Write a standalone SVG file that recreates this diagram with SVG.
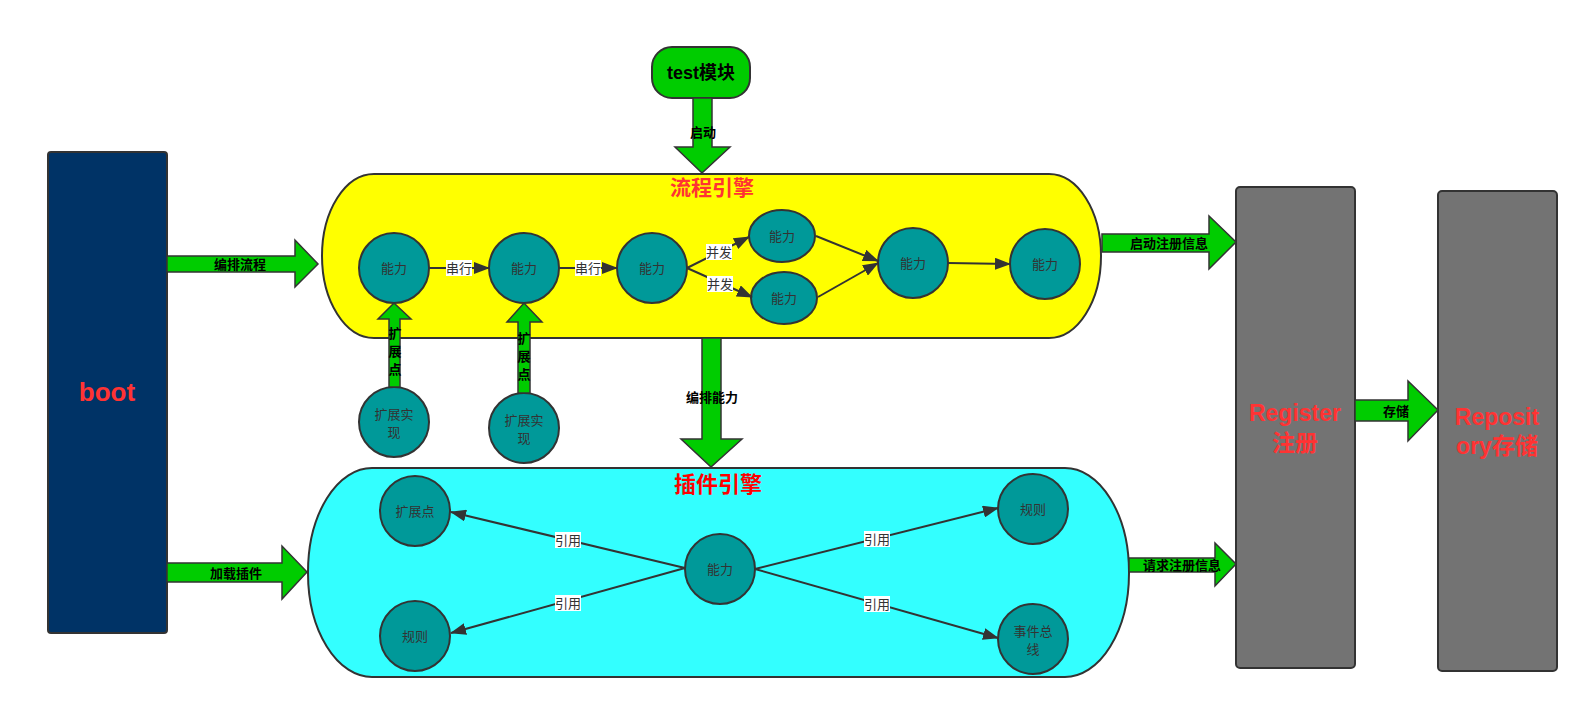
<svg xmlns="http://www.w3.org/2000/svg" width="1589" height="709" viewBox="0 0 1589 709">
<defs>
<style>
.node{stroke:#333;stroke-width:2}
.ab{fill:#00cc00;stroke:#333;stroke-width:1.5}
.circ{fill:#009999;stroke:#333;stroke-width:2}
.ct{font-family:"Liberation Sans","Noto Sans CJK SC",sans-serif;font-size:13px;fill:#333;text-anchor:middle;dominant-baseline:central}
.al{font-family:"Liberation Sans","Noto Sans CJK SC",sans-serif;font-size:13px;font-weight:bold;fill:#000;text-anchor:middle;dominant-baseline:central}
.el{font-family:"Liberation Sans","Noto Sans CJK SC",sans-serif;font-size:13px;fill:#333;text-anchor:middle;dominant-baseline:central}
.big{font-family:"Liberation Sans","Noto Sans CJK SC",sans-serif;font-weight:bold;text-anchor:middle;dominant-baseline:central}
.ln{stroke:#333;stroke-width:2;fill:none;marker-end:url(#ah)}
.lb{fill:#fff}
</style>
<marker id="ah" markerUnits="userSpaceOnUse" markerWidth="16" markerHeight="12" refX="15" refY="6" orient="auto">
<path d="M0,0 L16,6 L0,12 Z" fill="#333"/>
</marker>
</defs>
<rect width="1589" height="709" fill="#fff"/>

<g id="boot">
<rect class="node" x="48" y="152" width="119" height="481" rx="3" fill="#003366"/>
<text class="big" x="107" y="392" font-size="26" fill="#ff3333">boot</text>
</g>

<g id="flow-engine">
<rect class="node" x="322" y="174" width="779" height="164" rx="52" ry="82" fill="#ffff00"/>
<text class="big" x="712" y="187" font-size="21" fill="#ff3333">流程引擎</text>
</g>

<g id="plugin-engine">
<rect class="node" x="308" y="468" width="821" height="209" rx="64" ry="104" fill="#33ffff"/>
<text class="big" x="718" y="484" font-size="22" fill="#ff0000">插件引擎</text>
</g>

<g id="register">
<rect class="node" x="1236" y="187" width="119" height="481" rx="4" fill="#737373"/>
<text class="big" x="1295" y="413" font-size="23" fill="#ff3333">Register</text>
<text class="big" x="1295" y="443" font-size="23" fill="#ff3333">注册</text>
</g>

<g id="repository">
<rect class="node" x="1438" y="191" width="119" height="480" rx="4" fill="#737373"/>
<text class="big" x="1497" y="417" font-size="23" fill="#ff3333">Reposit</text>
<text class="big" x="1497" y="446" font-size="23" fill="#ff3333">ory存储</text>
</g>

<g id="test-module">
<rect class="node" x="652" y="47" width="98" height="51" rx="20" fill="#00cc00"/>
<text class="big" x="701" y="73" font-size="18" fill="#000">test模块</text>
</g>

<g id="flow-c1"><circle class="circ" cx="394" cy="268" r="35"/><text class="ct" x="394" y="268">能力</text></g>
<g id="flow-c2"><circle class="circ" cx="524" cy="268" r="35"/><text class="ct" x="524" y="268">能力</text></g>
<g id="flow-c3"><circle class="circ" cx="652" cy="268" r="35"/><text class="ct" x="652" y="268">能力</text></g>
<g id="flow-e1"><ellipse class="circ" cx="782" cy="236" rx="33" ry="26"/><text class="ct" x="782" y="236">能力</text></g>
<g id="flow-e2"><ellipse class="circ" cx="784" cy="298" rx="33" ry="26"/><text class="ct" x="784" y="298">能力</text></g>
<g id="flow-c4"><circle class="circ" cx="913" cy="263" r="35"/><text class="ct" x="913" y="263">能力</text></g>
<g id="flow-c5"><circle class="circ" cx="1045" cy="264" r="35"/><text class="ct" x="1045" y="264">能力</text></g>

<g id="ext-impl-1"><circle class="circ" cx="394" cy="422" r="35"/><text class="ct" x="394" y="414">扩展实</text><text class="ct" x="394" y="432">现</text></g>
<g id="ext-impl-2"><circle class="circ" cx="524" cy="428" r="35"/><text class="ct" x="524" y="420">扩展实</text><text class="ct" x="524" y="438">现</text></g>

<g id="plug-ext"><circle class="circ" cx="415" cy="511" r="35"/><text class="ct" x="415" y="511">扩展点</text></g>
<g id="plug-rule-l"><circle class="circ" cx="415" cy="636" r="35"/><text class="ct" x="415" y="636">规则</text></g>
<g id="plug-cap"><circle class="circ" cx="720" cy="569" r="35"/><text class="ct" x="720" y="569">能力</text></g>
<g id="plug-rule-r"><circle class="circ" cx="1033" cy="509" r="35"/><text class="ct" x="1033" y="509">规则</text></g>
<g id="plug-bus"><circle class="circ" cx="1033" cy="639" r="35"/><text class="ct" x="1033" y="631">事件总</text><text class="ct" x="1033" y="649">线</text></g>

<g id="connectors">
<path class="ab" d="M167,256 H295 V240 L318,264 L295,287 V272 H167 Z"/>
<text class="al" x="240" y="264">编排流程</text>
<path class="ab" d="M167,563 H282 V546 L307,572 L282,599 V582 H167 Z"/>
<text class="al" x="236" y="573">加载插件</text>
<path class="ab" d="M693,98 V147 H675 L702,173 L730,147 H712 V98 Z"/>
<text class="al" x="703" y="132">启动</text>
<path class="ab" d="M702,338 V439 H681 L711,467 L742,439 H721 V338 Z"/>
<text class="al" x="712" y="397">编排能力</text>
<path class="ab" d="M389,387 V319 H378 L394,303 L411,319 H400 V387 Z"/>
<text class="al" x="395" y="333">扩</text><text class="al" x="395" y="351">展</text><text class="al" x="395" y="369">点</text>
<path class="ab" d="M518,393 V322 H507 L524,303 L542,322 H530 V393 Z"/>
<text class="al" x="524" y="338">扩</text><text class="al" x="524" y="356">展</text><text class="al" x="524" y="374">点</text>
<path class="ab" d="M1102,234 H1209 V216 L1236,242 L1209,269 V252 H1102 Z"/>
<text class="al" x="1169" y="243">启动注册信息</text>
<path class="ab" d="M1129,558 H1215 V543 L1236,564 L1215,586 V572 H1129 Z"/>
<text class="al" x="1182" y="565">请求注册信息</text>
<path class="ab" d="M1355,400 H1408 V381 L1438,410 L1408,441 V421 H1355 Z"/>
<text class="al" x="1396" y="411">存储</text>

<line class="ln" x1="429" y1="268" x2="489" y2="268"/>
<rect class="lb" x="446" y="260" width="26" height="16"/><text class="el" x="459" y="268">串行</text>
<line class="ln" x1="559" y1="268" x2="617" y2="268"/>
<rect class="lb" x="575" y="260" width="26" height="16"/><text class="el" x="588" y="268">串行</text>
<line class="ln" x1="687" y1="268" x2="749" y2="237"/>
<rect class="lb" x="706" y="244" width="26" height="16"/><text class="el" x="719" y="252">并发</text>
<line class="ln" x1="687" y1="268" x2="752" y2="297"/>
<rect class="lb" x="707" y="276" width="26" height="16"/><text class="el" x="720" y="284">并发</text>
<line class="ln" x1="816" y1="236" x2="878" y2="261"/>
<line class="ln" x1="818" y1="297" x2="878" y2="263"/>
<line class="ln" x1="948" y1="263" x2="1010" y2="264"/>

<line class="ln" x1="685" y1="568" x2="451" y2="512"/>
<rect class="lb" x="555" y="532" width="26" height="16"/><text class="el" x="568" y="540">引用</text>
<line class="ln" x1="685" y1="568" x2="451" y2="633"/>
<rect class="lb" x="555" y="595" width="26" height="16"/><text class="el" x="568" y="603">引用</text>
<line class="ln" x1="755" y1="569" x2="998" y2="508"/>
<rect class="lb" x="864" y="531" width="26" height="16"/><text class="el" x="877" y="539">引用</text>
<line class="ln" x1="755" y1="569" x2="998" y2="638"/>
<rect class="lb" x="864" y="596" width="26" height="16"/><text class="el" x="877" y="604">引用</text>
</g>
</svg>
